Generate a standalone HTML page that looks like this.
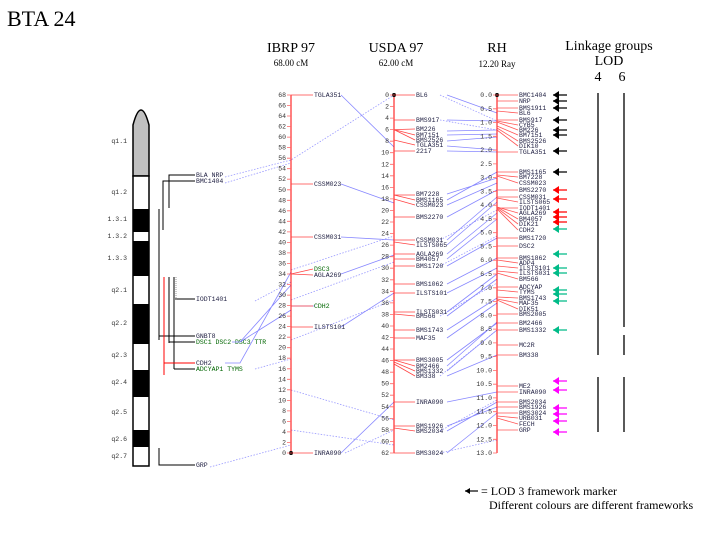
<!DOCTYPE html>
<html><head><meta charset="utf-8"><style>
html,body{margin:0;padding:0;background:#fff}
svg{display:block}
.t{font-family:"Liberation Mono",monospace;font-size:6.5px;fill:#333}
.tk{font-family:"Liberation Mono",monospace;font-size:6.5px;fill:#333;text-anchor:end}
.m{font-family:"Liberation Mono",monospace;font-size:6.5px;fill:#224}
.s{font-family:"Liberation Serif",serif;fill:#000}
</style></head><body>
<svg width="720" height="540" viewBox="0 0 720 540" xmlns="http://www.w3.org/2000/svg">
<rect width="720" height="540" fill="#fff"/>
<text class="s" x="7" y="26" font-size="22">BTA 24</text>
<text class="s" x="291" y="52" font-size="14" text-anchor="middle">IBRP 97</text>
<text class="s" x="291" y="66" font-size="9" text-anchor="middle">68.00 cM</text>
<text class="s" x="396" y="52" font-size="14" text-anchor="middle">USDA 97</text>
<text class="s" x="396" y="66" font-size="9" text-anchor="middle">62.00 cM</text>
<text class="s" x="497" y="52" font-size="14" text-anchor="middle">RH</text>
<text class="s" x="497" y="67" font-size="9" text-anchor="middle">12.20 Ray</text>
<text class="s" x="609" y="50" font-size="14" text-anchor="middle">Linkage groups</text>
<text class="s" x="609" y="65" font-size="14" text-anchor="middle">LOD</text>
<text class="s" x="598" y="81" font-size="14" text-anchor="middle">4</text>
<text class="s" x="622" y="81" font-size="14" text-anchor="middle">6</text>

<!-- chromosome -->
<path d="M133,176 L133,125 Q141,95 149,125 L149,176 Z" fill="#c0c0c0" stroke="#000" stroke-width="1.5"/>
<rect x="133" y="176" width="16" height="290" fill="#fff" stroke="#000" stroke-width="1.5"/>
<g fill="#000">
<rect x="133" y="209" width="16" height="23"/><rect x="133" y="241" width="16" height="35"/>
<rect x="133" y="304" width="16" height="40"/><rect x="133" y="370" width="16" height="27"/>
<rect x="133" y="430" width="16" height="17"/>
</g>
<g class="t" text-anchor="end" font-size="6">
<text x="127" y="143" text-anchor="end">q1.1</text><text x="127" y="194" text-anchor="end">q1.2</text>
<text x="127" y="221" text-anchor="end">1.3.1</text><text x="127" y="238" text-anchor="end">1.3.2</text>
<text x="127" y="260" text-anchor="end">1.3.3</text><text x="127" y="292" text-anchor="end">q2.1</text>
<text x="127" y="325" text-anchor="end">q2.2</text><text x="127" y="357" text-anchor="end">q2.3</text>
<text x="127" y="384" text-anchor="end">q2.4</text><text x="127" y="414" text-anchor="end">q2.5</text>
<text x="127" y="441" text-anchor="end">q2.6</text><text x="127" y="458" text-anchor="end">q2.7</text>
</g>
<g stroke="#000" stroke-width="1" fill="none">
<path d="M169,208 V175 H195 M163,230 V181 H195 M159,340 V209 M159,336 H195 M169,343 V277 M169,342 H195 M174,369 V277 M174,369 H195 M175,299 H195 M159,448 V465 H195"/>
</g>
<path d="M164,277 V375 M164,363 H195" stroke="#f00" stroke-width="1" fill="none"/>
<path d="M176,277 V300" stroke="#999" stroke-width="1" stroke-dasharray="1,1"/>
<g class="m">
<text x="196" y="177">BLA NRP</text><text x="196" y="183">BMC1404</text>
<text x="196" y="301">IODT1401</text><text x="196" y="338">GNBT8</text>
<text x="196" y="344" fill="#060">DSC1 DSC2 DSC3 TTR</text>
<text x="196" y="365">CDH2</text><text x="196" y="371" fill="#060">ADCYAP1 TYMS</text>
<text x="196" y="467">GRP</text>
</g>

<!-- connecting lines -->
<g stroke="#99f" stroke-width="0.8" fill="none" stroke-dasharray="1.5,1.5">
<path d="M225,177 L291,160 L394,95 M225,183 L291,163 M255,301 L291,282 M255,369 L291,359 M210,467 L291,445"/>
<path d="M291,270 L394,236 M291,300 L394,262 M291,340 L394,300 M291,390 L394,420 M291,430 L394,445"/>
<path d="M440,95 L497,121 M440,120 L497,130 M440,240 L497,210 M440,266 L497,236 M440,316 L497,283 M440,376 L497,330 M440,431 L497,400 M440,453 L497,440 M345,453 L394,430"/>
</g>
<g stroke="#88f" stroke-width="0.8" fill="none">
<path d="M341,95 L394,147 M341,184 L394,203 M341,237 L394,240 M341,274 L394,255 M341,327 L394,293 M341,453 L394,402 M315,306 L291,306"/>
<path d="M225,363 L240,363 L291,272 M232,342 L240,342 L291,285 M240,342 L291,310"/>
<path d="M447,95 L497,113 M447,120 L497,121 M447,131 L497,130 M447,135 L497,134 M447,141 L497,137 M447,146 L497,150 M447,151 L497,152 M447,194 L497,178 M447,200 L497,172 M447,205 L497,183 M447,217 L497,190 M447,240 L497,197 M447,245 L497,202 M447,254 L497,213 M447,259 L497,219 M447,266 L497,238 M447,284 L497,258 M447,293 L497,268 M447,312 L497,274 M447,316 L497,279 M447,330 L497,298 M447,338 L497,303 M447,360 L497,323 M447,366 L497,322 M447,371 L497,330 M447,376 L497,355 M447,402 L497,392 M447,426 L497,407 M447,431 L497,402 M447,453 L497,413"/>
</g>

<!-- IBRP axis -->
<line x1="291" y1="95" x2="291" y2="453" stroke="#f00"/>
<circle cx="291" cy="453" r="2" fill="#000"/>
<g stroke="#f66" stroke-width="0.8">
<path d="M287,95h4M287,105.5h4M287,116h4M287,126.6h4M287,137.1h4M287,147.6h4M287,158.2h4M287,168.7h4M287,179.2h4M287,189.8h4M287,200.3h4M287,210.8h4M287,221.3h4M287,231.9h4M287,242.4h4M287,252.9h4M287,263.5h4M287,274h4M287,284.5h4M287,295.1h4M287,305.6h4M287,316.1h4M287,326.6h4M287,337.2h4M287,347.7h4M287,358.2h4M287,368.8h4M287,379.3h4M287,389.8h4M287,400.4h4M287,410.9h4M287,421.4h4M287,431.9h4M287,442.5h4M287,453h4"/>
</g>
<g class="tk">
<text x="286" y="97">68</text><text x="286" y="107.5">66</text><text x="286" y="118">64</text><text x="286" y="128.6">62</text><text x="286" y="139.1">60</text><text x="286" y="149.6">58</text><text x="286" y="160.2">56</text><text x="286" y="170.7">54</text><text x="286" y="181.2">52</text><text x="286" y="191.8">50</text><text x="286" y="202.3">48</text><text x="286" y="212.8">46</text><text x="286" y="223.3">44</text><text x="286" y="233.9">42</text><text x="286" y="244.4">40</text><text x="286" y="254.9">38</text><text x="286" y="265.5">36</text><text x="286" y="276">34</text><text x="286" y="286.5">32</text><text x="286" y="297.1">30</text><text x="286" y="307.6">28</text><text x="286" y="318.1">26</text><text x="286" y="328.6">24</text><text x="286" y="339.2">22</text><text x="286" y="349.7">20</text><text x="286" y="360.2">18</text><text x="286" y="370.8">16</text><text x="286" y="381.3">14</text><text x="286" y="391.8">12</text><text x="286" y="402.4">10</text><text x="286" y="412.9">8</text><text x="286" y="423.4">6</text><text x="286" y="433.9">4</text><text x="286" y="444.5">2</text><text x="286" y="455">0</text>
</g>
<g stroke="#f44" stroke-width="0.8" fill="none">
<path d="M291,95H313M291,184H313M291,237H313M291,274L313,269M291,274L313,275M291,306H313M291,327H313M291,453H313"/>
</g>
<g class="m">
<text x="314" y="97">TGLA351</text><text x="314" y="186">CSSM023</text><text x="314" y="239">CSSM031</text>
<text x="314" y="271" fill="#060">DSC3</text><text x="314" y="277">AGLA269</text><text x="314" y="308" fill="#060">CDH2</text>
<text x="314" y="329">ILSTS101</text><text x="314" y="455">INRA090</text>
</g>

<!-- USDA axis -->
<line x1="394" y1="95" x2="394" y2="453" stroke="#f00"/>
<circle cx="394" cy="95" r="2" fill="#000"/>
<g stroke="#f66" stroke-width="0.8">
<path d="M390,95h4M390,106.5h4M390,118.1h4M390,129.6h4M390,141.2h4M390,152.7h4M390,164.3h4M390,175.8h4M390,187.4h4M390,198.9h4M390,210.5h4M390,222h4M390,233.6h4M390,245.1h4M390,256.7h4M390,268.2h4M390,279.8h4M390,291.3h4M390,302.9h4M390,314.4h4M390,326h4M390,337.5h4M390,349h4M390,360.6h4M390,372.2h4M390,383.7h4M390,395.2h4M390,406.8h4M390,418.4h4M390,429.9h4M390,441.5h4M390,453h4"/>
</g>
<g class="tk">
<text x="389" y="97">0</text><text x="389" y="108.5">2</text><text x="389" y="120.1">4</text><text x="389" y="131.6">6</text><text x="389" y="143.2">8</text><text x="389" y="154.7">10</text><text x="389" y="166.3">12</text><text x="389" y="177.8">14</text><text x="389" y="189.4">16</text><text x="389" y="200.9">18</text><text x="389" y="212.5">20</text><text x="389" y="224">22</text><text x="389" y="235.6">24</text><text x="389" y="247.1">26</text><text x="389" y="258.7">28</text><text x="389" y="270.2">30</text><text x="389" y="281.8">32</text><text x="389" y="293.3">34</text><text x="389" y="304.9">36</text><text x="389" y="316.4">38</text><text x="389" y="328">40</text><text x="389" y="339.5">42</text><text x="389" y="351">44</text><text x="389" y="362.6">46</text><text x="389" y="374.2">48</text><text x="389" y="385.7">50</text><text x="389" y="397.2">52</text><text x="389" y="408.8">54</text><text x="389" y="420.4">56</text><text x="389" y="431.9">58</text><text x="389" y="443.5">60</text><text x="389" y="455">62</text>
</g>
<g stroke="#f44" stroke-width="0.8" fill="none">
<path d="M394,95H415M394,120H415M394,129.6L415,129M394,129.6L415,135M394,129.6L415,140M394,140L415,145M394,151H415M394,195H415M394,195L415,200M394,199L415,205M394,217H415M394,240H415M394,242L415,245M394,254H415M394,259H415M394,266H415M394,284H415M394,293H415M394,312H415M394,314L415,316M394,330H415M394,338H415M394,360H415M394,360L415,366M394,362L415,371M394,364L415,376M394,402H415M394,426H415M394,428L415,431M394,453H415"/>
</g>
<g class="m">
<text x="416" y="97">BL6</text><text x="416" y="122">BMS917</text><text x="416" y="131">BM226</text><text x="416" y="137">BM7151</text><text x="416" y="142">BMS2526</text><text x="416" y="147">TGLA351</text><text x="416" y="153">2217</text>
<text x="416" y="196">BM7228</text><text x="416" y="202">BMS1165</text><text x="416" y="207">CSSM023</text><text x="416" y="219">BMS2270</text>
<text x="416" y="242">CSSM031</text><text x="416" y="247">ILSTS065</text><text x="416" y="256">AGLA269</text><text x="416" y="261">BM4057</text><text x="416" y="268">BMS1720</text>
<text x="416" y="286">BMS1062</text><text x="416" y="295">ILSTS101</text><text x="416" y="314">ILSTS031</text><text x="416" y="318">BM566</text><text x="416" y="332">BMS1743</text><text x="416" y="340">MAF35</text>
<text x="416" y="362">BMS3005</text><text x="416" y="368">BM2466</text><text x="416" y="373">BMS1332</text><text x="416" y="378">BM338</text>
<text x="416" y="404">INRA090</text><text x="416" y="428">BMS1926</text><text x="416" y="433">BMS2034</text><text x="416" y="455">BMS3024</text>
</g>

<!-- RH axis -->
<line x1="497" y1="95" x2="497" y2="453" stroke="#f00"/>
<circle cx="497" cy="95" r="2" fill="#000"/>
<g stroke="#f66" stroke-width="0.8">
<path d="M493,95h4M493,108.8h4M493,122.5h4M493,136.3h4M493,150.1h4M493,163.9h4M493,177.6h4M493,191.4h4M493,205.2h4M493,218.9h4M493,232.7h4M493,246.5h4M493,260.2h4M493,274h4M493,287.8h4M493,301.6h4M493,315.3h4M493,329.1h4M493,342.9h4M493,356.6h4M493,370.4h4M493,384.2h4M493,397.9h4M493,411.7h4M493,425.5h4M493,439.3h4M493,453h4"/>
</g>
<g class="tk">
<text x="492" y="97">0.0</text><text x="492" y="110.8">0.5</text><text x="492" y="124.5">1.0</text><text x="492" y="138.3">1.5</text><text x="492" y="152.1">2.0</text><text x="492" y="165.9">2.5</text><text x="492" y="179.6">3.0</text><text x="492" y="193.4">3.5</text><text x="492" y="207.2">4.0</text><text x="492" y="220.9">4.5</text><text x="492" y="234.7">5.0</text><text x="492" y="248.5">5.5</text><text x="492" y="262.2">6.0</text><text x="492" y="276">6.5</text><text x="492" y="289.8">7.0</text><text x="492" y="303.6">7.5</text><text x="492" y="317.3">8.0</text><text x="492" y="331.1">8.5</text><text x="492" y="344.9">9.0</text><text x="492" y="358.6">9.5</text><text x="492" y="372.4">10.0</text><text x="492" y="386.2">10.5</text><text x="492" y="399.9">11.0</text><text x="492" y="413.7">11.5</text><text x="492" y="427.5">12.0</text><text x="492" y="441.3">12.5</text><text x="492" y="455">13.0</text>
</g>
<g stroke="#f55" stroke-width="0.8" fill="none">
<path d="M497,95H518M497,101H518M497,108H518M497,111L518,113M497,120H518M497,121L518,125M497,122L518,130M497,126L518,135M497,128L518,141M497,130L518,146M497,152H518M497,172H518M497,175L518,177M497,176L518,183M497,190H518M497,197H518M497,198L518,202M497,208H518M497,207L518,213M497,207L518,219M497,208L518,224M497,209L518,230M497,238H518M497,246H518M497,258H518M497,260L518,263M497,266L518,268M497,271L518,273M497,273L518,279M497,287H518M497,290L518,292M497,297L518,298M497,299L518,303M497,300L518,309M497,314H518M497,323H518M497,330H518M497,345H518M497,355H518M497,386H518M497,392H518M497,402H518M497,407H518M497,413H518M497,416L518,418M497,418L518,424M497,430H518"/>
</g>
<g class="m">
<text x="519" y="97">BMC1404</text><text x="519" y="103">NRP</text><text x="519" y="110">BMS1911</text><text x="519" y="115">BL6</text><text x="519" y="122">BMS917</text><text x="519" y="127">CYB5</text><text x="519" y="132">BM226</text><text x="519" y="137">BM7151</text><text x="519" y="143">BMS2526</text><text x="519" y="148">DIK10</text><text x="519" y="154">TGLA351</text>
<text x="519" y="174">BMS1165</text><text x="519" y="179">BM7228</text><text x="519" y="185">CSSM023</text><text x="519" y="192">BMS2270</text><text x="519" y="199">CSSM031</text><text x="519" y="204">ILSTS065</text><text x="519" y="210">IODT1401</text><text x="519" y="215">AGLA269</text><text x="519" y="221">BM4057</text><text x="519" y="226">DIK21</text><text x="519" y="232">CDH2</text>
<text x="519" y="240">BMS1720</text><text x="519" y="248">DSC2</text><text x="519" y="260">BMS1862</text><text x="519" y="265">ADP4</text><text x="519" y="270">ILSTS101</text><text x="519" y="275">ILSTS031</text><text x="519" y="281">BM566</text>
<text x="519" y="289">ADCYAP</text><text x="519" y="294">TYMS</text><text x="519" y="300">BMS1743</text><text x="519" y="305">MAF35</text><text x="519" y="311">DIK51</text><text x="519" y="316">BMS2005</text><text x="519" y="325">BM2466</text><text x="519" y="332">BMS1332</text>
<text x="519" y="347">MC2R</text><text x="519" y="357">BM338</text><text x="519" y="388">ME2</text><text x="519" y="394">INRA090</text><text x="519" y="404">BMS2034</text><text x="519" y="409">BMS1926</text><text x="519" y="415">BMS3024</text><text x="519" y="420">URB031</text><text x="519" y="426">FECH</text><text x="519" y="432">GRP</text>
</g>

<!-- arrows -->
<g stroke-width="1.2">
<g stroke="#000" fill="#000">
<path d="M553,95h14M553,101h14M553,108h14M553,120h14M553,130h14M553,135h14M553,151h14M553,172h14"/>
<path d="M553,95l6,-4v8zM553,101l6,-4v8zM553,108l6,-4v8zM553,120l6,-4v8zM553,130l6,-4v8zM553,135l6,-4v8zM553,151l6,-4v8zM553,172l6,-4v8z" stroke="none"/>
</g>
<g stroke="#f00" fill="#f00">
<path d="M553,190h14M553,199h14M553,212h14M553,217h14M553,222h14"/>
<path d="M553,190l6,-4v8zM553,199l6,-4v8zM553,212l6,-4v8zM553,217l6,-4v8zM553,222l6,-4v8z" stroke="none"/>
</g>
<g stroke="#0b8" fill="#0b8">
<path d="M553,229h14M553,254h14M553,268h14M553,273h14M553,290h14M553,294h14M553,301h14M553,330h14"/>
<path d="M553,229l6,-4v8zM553,254l6,-4v8zM553,268l6,-4v8zM553,273l6,-4v8zM553,290l6,-4v8zM553,294l6,-4v8zM553,301l6,-4v8zM553,330l6,-4v8z" stroke="none"/>
</g>
<g stroke="#f0f" fill="#f0f">
<path d="M553,381h14M553,390h14M553,408h14M553,414h14M553,421h14M553,432h14"/>
<path d="M553,381l6,-4v8zM553,390l6,-4v8zM553,408l6,-4v8zM553,414l6,-4v8zM553,421l6,-4v8zM553,432l6,-4v8z" stroke="none"/>
</g>
</g>

<!-- linkage groups -->
<g stroke="#000" stroke-width="1.3">
<path d="M598,93V355M598,377V432M624,93V327M624,335V355M624,377V432"/>
</g>

<!-- legend -->
<path d="M465,491h13" stroke="#000" stroke-width="1.2"/>
<path d="M465,491l5,-3v6z" fill="#000"/>
<text class="s" x="481" y="495" font-size="12">= LOD 3 framework marker</text>
<text class="s" x="489" y="509" font-size="12">Different colours are different frameworks</text>
</svg>
</body></html>
